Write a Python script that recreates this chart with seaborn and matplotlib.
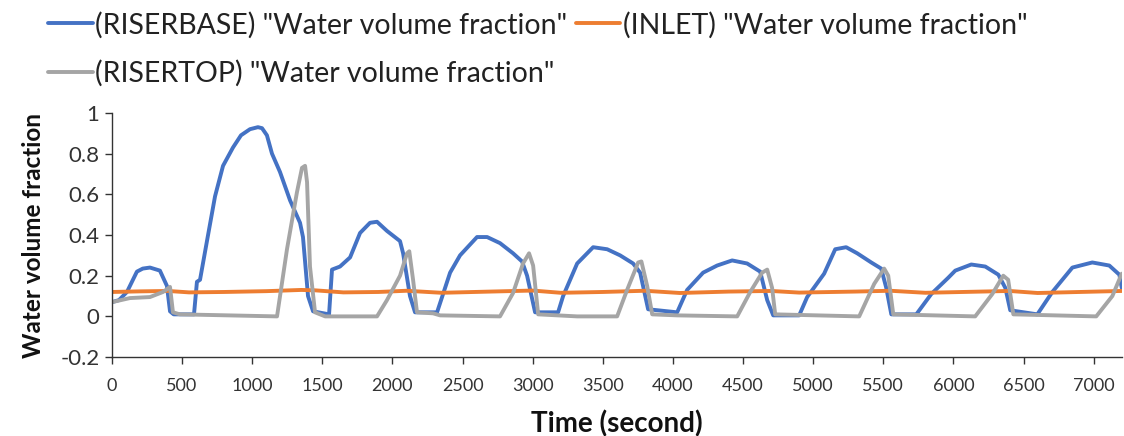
import numpy as np
import pandas as pd
import matplotlib
matplotlib.use("Agg")
import matplotlib.pyplot as plt
import seaborn as sns

# ---- data ----
base_t = [0, 50, 107, 178, 220, 271, 342, 392, 414, 440, 585, 606, 628, 680, 735, 792, 863, 920,
          984, 1041, 1070, 1105, 1141, 1198, 1270, 1341, 1362, 1398, 1434, 1548, 1569, 1626, 1698,
          1769, 1840, 1890, 1961, 2054, 2076, 2125, 2161, 2318, 2411, 2482, 2603, 2675, 2767, 2860,
          2924, 2960, 3017, 3181, 3217, 3317, 3431, 3531, 3623, 3716, 3766, 3823, 4030, 4101, 4215,
          4315, 4422, 4529, 4622, 4672, 4715, 4900, 4957, 5078, 5157, 5235, 5314, 5414, 5485, 5521,
          5557, 5735, 5842, 5963, 6013, 6127, 6227, 6320, 6370, 6405, 6598, 6705, 6848, 6990, 7111,
          7183, 7200]
base_v = [0.07, 0.08, 0.12, 0.22, 0.235, 0.24, 0.225, 0.15, 0.025, 0.01, 0.01, 0.17, 0.18, 0.38,
          0.59, 0.74, 0.83, 0.89, 0.92, 0.93, 0.925, 0.89, 0.80, 0.71, 0.57, 0.46, 0.39, 0.10, 0.025,
          0.01, 0.23, 0.245, 0.29, 0.41, 0.46, 0.465, 0.42, 0.37, 0.31, 0.10, 0.02, 0.02, 0.215, 0.30,
          0.39, 0.39, 0.36, 0.31, 0.27, 0.20, 0.02, 0.02, 0.10, 0.26, 0.34, 0.33, 0.30, 0.26, 0.215,
          0.035, 0.02, 0.13, 0.215, 0.25, 0.275, 0.26, 0.22, 0.08, 0.005, 0.005, 0.095, 0.21, 0.33,
          0.34, 0.31, 0.265, 0.235, 0.14, 0.01, 0.01, 0.11, 0.19, 0.225, 0.255, 0.245, 0.205, 0.14,
          0.03, 0.01, 0.12, 0.24, 0.265, 0.25, 0.205, 0.14]

top_t = [0, 128, 271, 364, 414, 435, 485, 1177, 1248, 1319, 1355, 1377, 1391, 1412, 1448, 1520,
         1890, 1961, 2054, 2104, 2120, 2147, 2175, 2290, 2340, 2767, 2860, 2931, 2974, 3003, 3039,
         3317, 3602, 3673, 3752, 3775, 3816, 3852, 4030, 4458, 4551, 4636, 4672, 4707, 4729, 5328,
         5435, 5506, 5535, 5571, 6155, 6277, 6355, 6390, 6427, 7018, 7133, 7200]
top_v = [0.07, 0.09, 0.095, 0.12, 0.145, 0.02, 0.01, 0.0, 0.33, 0.61, 0.73, 0.74, 0.66, 0.245, 0.02,
         0.0, 0.0, 0.08, 0.20, 0.31, 0.32, 0.18, 0.02, 0.015, 0.005, 0.0, 0.115, 0.26, 0.31, 0.25,
         0.01, 0.0, 0.0, 0.13, 0.265, 0.27, 0.15, 0.01, 0.005, 0.0, 0.12, 0.215, 0.23, 0.14, 0.01,
         0.0, 0.16, 0.235, 0.2, 0.01, 0.0, 0.11, 0.2, 0.18, 0.01, 0.0, 0.10, 0.21]

inlet_t = [0, 200, 400, 550, 800, 1100, 1350, 1450, 1650, 1900, 2100, 2350, 2700, 3000, 3200, 3500,
           3800, 4050, 4400, 4700, 4900, 5300, 5550, 5800, 6200, 6400, 6600, 6900, 7200]
inlet_v = [0.12, 0.123, 0.125, 0.118, 0.12, 0.124, 0.13, 0.128, 0.118, 0.12, 0.126, 0.116, 0.122,
           0.127, 0.116, 0.12, 0.126, 0.115, 0.122, 0.125, 0.117, 0.122, 0.126, 0.116, 0.122, 0.125,
           0.115, 0.12, 0.125]

labels = ['(RISERBASE) "Water volume fraction"',
          '(INLET) "Water volume fraction"',
          '(RISERTOP) "Water volume fraction"']
colors = ["#4472C4", "#ED7D31", "#A5A5A5"]
x_ticks = list(range(0, 7001, 500))
y_ticks = [-0.2, 0, 0.2, 0.4, 0.6, 0.8, 1]
y_tick_labels = ["-0.2", "0", "0.2", "0.4", "0.6", "0.8", "1"]

assert len(base_t) == len(base_v)
assert len(top_t) == len(top_v)
assert len(inlet_t) == len(inlet_v)

# ---- plot ----
sns.set_theme(style="white")
plt.rcParams["font.family"] = ["Lato", "DejaVu Sans"]

fig = plt.figure(figsize=(11.24, 4.36), dpi=100)
ax = fig.add_axes([0.0996, 0.181, 0.8984, 0.560])

series = [(base_t, base_v), (inlet_t, inlet_v), (top_t, top_v)]
handles = []
for (t, v), lab, c in zip(series, labels, colors):
    df = pd.DataFrame({"t": t, "v": v})
    sns.lineplot(data=df, x="t", y="v", ax=ax, color=c, linewidth=2.8,
                 estimator=None, sort=False, label=lab, legend=False)
    handles.append(ax.lines[-1])

ax.set_xlim(0, 7200)
ax.set_ylim(-0.2, 1.0)
ax.set_xticks(x_ticks)
ax.set_xticklabels([str(x) for x in x_ticks], fontsize=13, color="#333333")
ax.set_yticks(y_ticks)
ax.set_yticklabels(y_tick_labels, fontsize=16, color="#333333")
ax.tick_params(axis="both", which="both", direction="out", length=5, width=1,
               color="#333333", bottom=True, left=True, pad=4)
ax.tick_params(axis="x", pad=10)
for s in ["top", "right"]:
    ax.spines[s].set_visible(False)
for s in ["left", "bottom"]:
    ax.spines[s].set_color("#333333")
    ax.spines[s].set_linewidth(1)

ax.set_xlabel("Time (second)", fontsize=20, fontweight="bold", color="#111111", labelpad=12)
ax.set_ylabel("Water volume fraction", fontsize=17.5, fontweight="bold", color="#111111", labelpad=11)

order = [0, 2, 1]
leg = fig.legend([handles[i] for i in order], [labels[i] for i in order],
                 loc="upper left", bbox_to_anchor=(0.033, 1.0), ncol=2, frameon=False,
                 fontsize=20.5, handlelength=1.55, handletextpad=0.1, columnspacing=0.3,
                 labelspacing=0.75, borderaxespad=0)
for txt in leg.get_texts():
    txt.set_color("#222222")

fig.savefig("out.png", dpi=100)
